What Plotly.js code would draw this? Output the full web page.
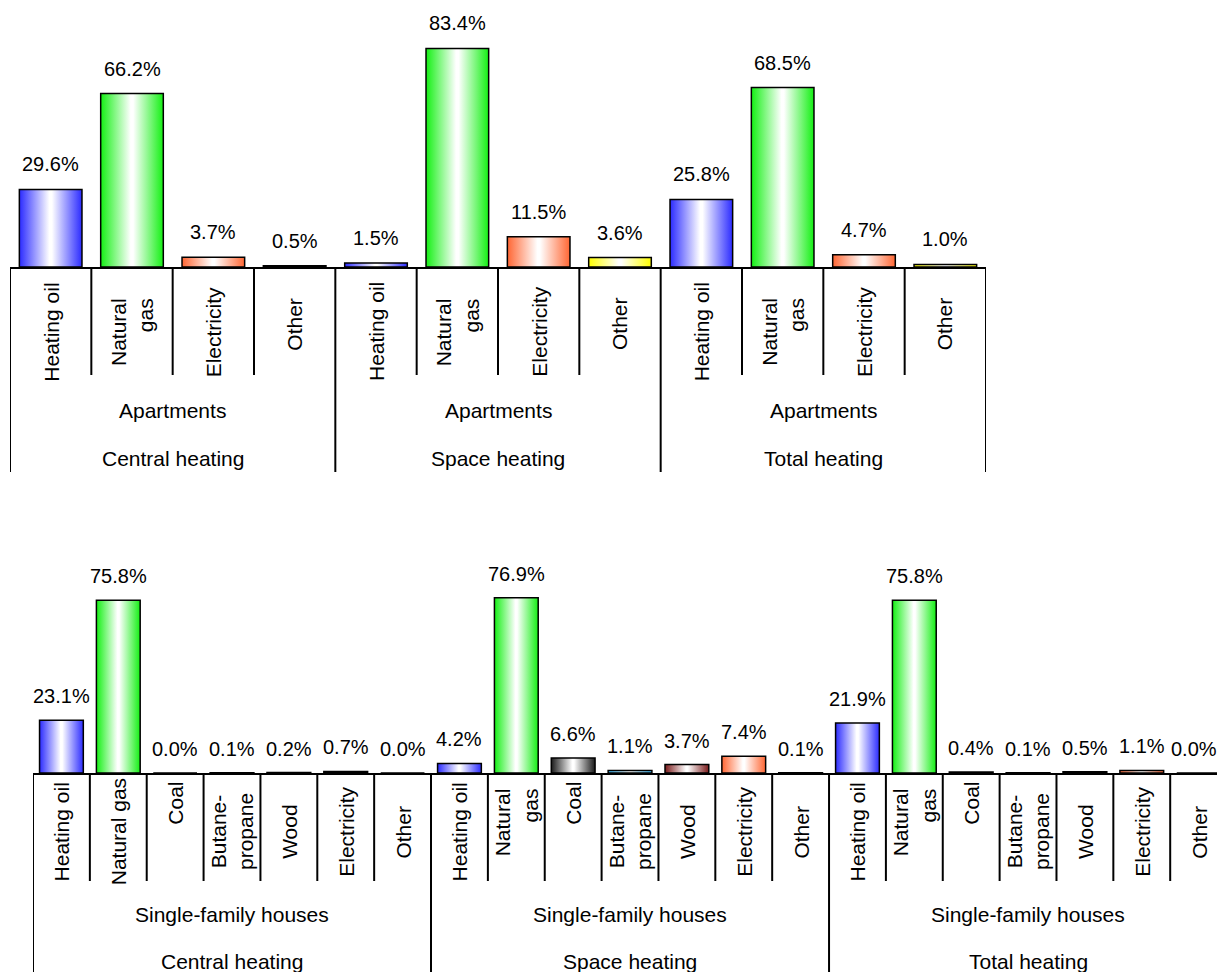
<!DOCTYPE html>
<html>
<head>
<meta charset="utf-8">
<script src="https://cdn.plot.ly/plotly-3.0.1.min.js"></script>
<style>
  html, body { margin: 0; padding: 0; background: #ffffff; }
  #chart { width: 1217px; height: 972px; }
</style>
</head>
<body>
<div id="chart"></div>
<script>
// ---- Data: share of each heating fuel (%) ----
const heatingTypes = ['Central heating', 'Space heating', 'Total heating'];

// Apartments
const aptDwelling = 'Apartments';
const aptFuels = ['Heating oil', 'Natural gas', 'Electricity', 'Other'];
const aptFuelTicks = ['Heating oil', 'Natural<br>gas', 'Electricity', 'Other'];
const aptCentral = [29.6, 66.2, 3.7, 0.5];
const aptSpace = [1.5, 83.4, 11.5, 3.6];
const aptTotal = [25.8, 68.5, 4.7, 1.0];

// Single-family houses
const houseDwelling = 'Single-family houses';
const houseFuels = ['Heating oil', 'Natural gas', 'Coal', 'Butane-propane', 'Wood', 'Electricity', 'Other'];
const houseCentralTicks = ['Heating oil', 'Natural gas', 'Coal', 'Butane-<br>propane', 'Wood', 'Electricity', 'Other'];
const houseFuelTicks = ['Heating oil', 'Natural<br>gas', 'Coal', 'Butane-<br>propane', 'Wood', 'Electricity', 'Other'];
const houseCentral = [23.1, 75.8, 0.0, 0.1, 0.2, 0.7, 0.0];
const houseSpace = [4.2, 76.9, 6.6, 1.1, 3.7, 7.4, 0.1];
const houseTotal = [21.9, 75.8, 0.4, 0.1, 0.5, 1.1, 0.0];

// Edge colour of each fuel's shaded bar (fades to white in the middle)
const fuelColors = {
  'Heating oil': '#2b2bff',
  'Natural gas': '#14f014',
  'Electricity': '#ff6633',
  'Other': '#ffff00',
  'Coal': '#1a1a1a',
  'Butane-propane': '#33bbff',
  'Wood': '#7a1a1a'
};

// ---- Page geometry (pixels) ----
const W = 1217, H = 972;
const py = p => 1 - p / H;          // pixel row -> paper y
const px = p => p / W;              // pixel column -> paper x

const FONT = 'Liberation Sans, Arial, sans-serif';
const FS = 21;        // category and group labels
const FS_VALUE = 20;  // percentage labels

const traces = [];
const annotations = [];
const shapes = [];

function buildPanel(opts) {
  const { dwelling, fuels, tickSets, valueSets, xa, ya } = opts;
  const nf = fuels.length;
  const cats = [];
  heatingTypes.forEach(h => fuels.forEach(f => cats.push(h + ' / ' + f)));

  // one bar trace per fuel so each gets its own shading
  fuels.forEach((f, fi) => {
    traces.push({
      type: 'bar',
      x: heatingTypes.map(h => h + ' / ' + f),
      y: valueSets.map(v => v[fi]),
      xaxis: xa, yaxis: ya,
      meta: f,
      marker: { color: fuelColors[f], line: { color: '#000000', width: 1.5 } },
      hoverinfo: 'skip',
      showlegend: false
    });
  });

  // value labels above the bars (the right-most one is kept inside the page)
  heatingTypes.forEach((h, hi) => {
    fuels.forEach((f, fi) => {
      const v = valueSets[hi][fi];
      const isLast = hi === heatingTypes.length - 1 && fi === nf - 1;
      annotations.push({
        x: h + ' / ' + f, y: v, xref: xa, yref: ya,
        text: v.toFixed(1) + '%', showarrow: false,
        yanchor: 'middle', yshift: opts.valueShift,
        xshift: isLast ? opts.lastShift : 0,
        font: { family: FONT, size: FS_VALUE, color: '#000' }
      });
    });
  });

  // rotated fuel names
  heatingTypes.forEach((h, hi) => {
    tickSets[hi].forEach((t, fi) => {
      const rule = opts.labelRule(fuels[fi], t);
      annotations.push({
        x: h + ' / ' + fuels[fi], y: py(rule.y), xref: xa, yref: 'paper',
        text: t, textangle: -90, showarrow: false,
        xanchor: 'center', yanchor: rule.anchor, align: rule.align,
        font: { family: FONT, size: FS, color: '#000' }
      });
    });
    // dwelling type and heating type under each group
    const mid = hi * nf + (nf - 1) / 2;
    annotations.push({
      x: mid, y: py(opts.dwellingY), xref: xa, yref: 'paper',
      text: dwelling, showarrow: false, yanchor: 'middle',
      font: { family: FONT, size: FS, color: '#000' }
    });
    annotations.push({
      x: mid, y: py(opts.heatingY), xref: xa, yref: 'paper',
      text: h, showarrow: false, yanchor: 'middle',
      font: { family: FONT, size: FS, color: '#000' }
    });
  });

  // separators between categories and between groups
  for (let k = 0; k <= cats.length; k++) {
    const isGroup = k % nf === 0;
    shapes.push({
      type: 'line', xref: xa, yref: 'paper',
      x0: k - 0.5, x1: k - 0.5,
      y0: py(opts.baseY), y1: py(isGroup ? opts.groupEnd : opts.innerEnd),
      line: { color: '#000000', width: 2 }
    });
  }
  return cats;
}

const topCats = buildPanel({
  dwelling: aptDwelling, fuels: aptFuels,
  tickSets: [aptFuelTicks, aptFuelTicks, aptFuelTicks],
  valueSets: [aptCentral, aptSpace, aptTotal],
  xa: 'x', ya: 'y',
  valueShift: 25, lastShift: 0,
  baseY: 267, innerEnd: 375, groupEnd: 472,
  dwellingY: 410, heatingY: 458,
  labelRule: (f) => ({ y: f === 'Other' ? 324 : 332, anchor: 'middle', align: 'right' })
});

const bottomCats = buildPanel({
  dwelling: houseDwelling, fuels: houseFuels,
  tickSets: [houseCentralTicks, houseFuelTicks, houseFuelTicks],
  valueSets: [houseCentral, houseSpace, houseTotal],
  xa: 'x2', ya: 'y2',
  valueShift: 24, lastShift: -5,
  baseY: 773, innerEnd: 881, groupEnd: 980,
  dwellingY: 914, heatingY: 961,
  labelRule: (f, t) => {
    if (f === 'Coal') return { y: 780, anchor: 'top', align: 'center' };
    if (t === 'Natural<br>gas') return { y: 786, anchor: 'top', align: 'right' };
    return { y: 832, anchor: 'middle', align: 'center' };
  }
});

const axisBase = {
  type: 'category', categoryorder: 'array',
  showline: true, linecolor: '#000000', linewidth: 2,
  showticklabels: false, ticks: '', showgrid: false, zeroline: false
};

const layout = {
  width: W, height: H,
  margin: { l: 0, r: 0, t: 0, b: 0, pad: 0 },
  paper_bgcolor: '#ffffff', plot_bgcolor: 'rgba(0,0,0,0)',
  showlegend: false,
  barmode: 'overlay', bargap: 0.23,
  font: { family: FONT, size: FS, color: '#000000' },
  xaxis: Object.assign({}, axisBase, {
    categoryarray: topCats, anchor: 'y',
    domain: [px(10), px(986)], range: [-0.5, topCats.length - 0.5]
  }),
  yaxis: { anchor: 'x', domain: [py(267), py(5)], range: [0, 100], visible: false },
  xaxis2: Object.assign({}, axisBase, {
    categoryarray: bottomCats, anchor: 'y2',
    domain: [px(33), 1], range: [-0.5, -0.5 + (W - 33) / 56.86]
  }),
  yaxis2: { anchor: 'x2', domain: [py(773), py(545)], range: [0, 100], visible: false },
  annotations: annotations,
  shapes: shapes
};

const gd = document.getElementById('chart');
Plotly.newPlot(gd, traces, layout, { staticPlot: true, displayModeBar: false }).then(() => {
  // shade each bar: saturated edges fading to white in the centre
  const ns = 'http://www.w3.org/2000/svg';
  const svg = gd.querySelector('svg.main-svg');
  let defs = svg.querySelector('defs');
  if (!defs) { defs = document.createElementNS(ns, 'defs'); svg.insertBefore(defs, svg.firstChild); }
  const ids = {};
  Object.keys(fuelColors).forEach((f, i) => {
    const g = document.createElementNS(ns, 'linearGradient');
    const id = 'fuel-shade-' + i;
    g.setAttribute('id', id);
    g.setAttribute('x1', '0'); g.setAttribute('x2', '1');
    g.setAttribute('y1', '0'); g.setAttribute('y2', '0');
    [[0, fuelColors[f]], [0.48, '#ffffff'], [0.52, '#ffffff'], [1, fuelColors[f]]].forEach(([o, c]) => {
      const s = document.createElementNS(ns, 'stop');
      s.setAttribute('offset', o);
      s.setAttribute('stop-color', c);
      g.appendChild(s);
    });
    defs.appendChild(g);
    ids[f] = id;
  });
  gd.querySelectorAll('.barlayer .trace').forEach(tr => {
    const cd = tr.__data__;
    const fuel = cd && cd[0] && cd[0].trace ? cd[0].trace.meta : null;
    if (!fuel || !ids[fuel]) return;
    tr.querySelectorAll('.point path').forEach(p => {
      p.style.fill = 'url(#' + ids[fuel] + ')';
    });
  });
});
</script>
</body>
</html>
